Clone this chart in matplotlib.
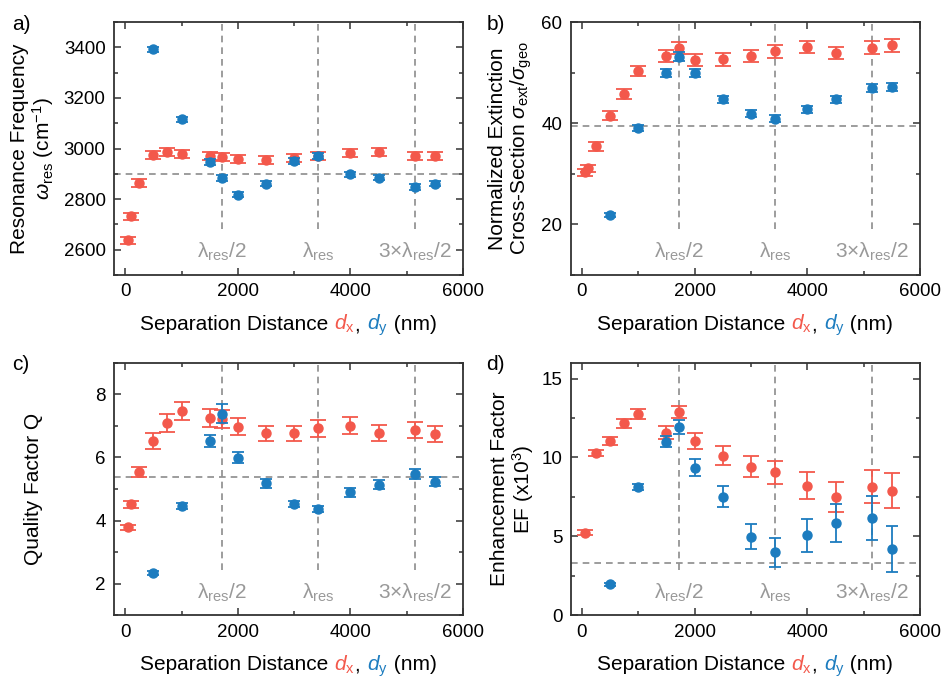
import matplotlib.pyplot as plt
import matplotlib.transforms as mtransforms
from matplotlib.ticker import MultipleLocator
from matplotlib.offsetbox import TextArea, HPacker, AnchoredOffsetbox

# separation distances (nm)
x_red = [50, 100, 250, 500, 750, 1000, 1500, 1715, 2000, 2500, 3000, 3430, 4000, 4500, 5145, 5500]
x_red_d = [50, 250, 500, 750, 1000, 1500, 1715, 2000, 2500, 3000, 3430, 4000, 4500, 5145, 5500]
x_blue = [500, 1000, 1500, 1715, 2000, 2500, 3000, 3430, 4000, 4500, 5145, 5500]

# a) resonance frequency
red_a = [2637, 2732, 2864, 2974, 2987, 2980, 2972, 2967, 2960, 2954, 2964, 2972, 2984, 2987, 2971, 2972]
red_a_err = [14, 14, 15, 16, 16, 16, 16, 16, 16, 16, 16, 16, 16, 16, 16, 16]
blue_a = [3392, 3115, 2945, 2885, 2818, 2861, 2952, 2970, 2898, 2885, 2848, 2860]
blue_a_err = [10, 10, 12, 12, 11, 10, 12, 12, 10, 10, 12, 10]

# b) normalized extinction cross-section
red_b = [30.3, 31.1, 35.4, 41.5, 45.8, 50.3, 53.3, 54.8, 52.5, 52.6, 53.3, 54.2, 55.1, 53.9, 54.9, 55.4]
red_b_err = [0.7, 0.7, 0.8, 0.9, 1.0, 1.0, 1.2, 1.2, 1.2, 1.2, 1.2, 1.3, 1.2, 1.2, 1.3, 1.3]
blue_b = [21.8, 39.0, 50.0, 53.1, 49.9, 44.7, 41.9, 40.9, 42.8, 44.7, 47.0, 47.2]
blue_b_err = [0.4, 0.6, 0.8, 0.9, 0.8, 0.7, 0.7, 0.7, 0.7, 0.7, 0.8, 0.8]

# c) quality factor
red_c = [3.79, 4.51, 5.54, 6.52, 7.09, 7.47, 7.24, 7.22, 6.97, 6.76, 6.76, 6.92, 7.01, 6.78, 6.86, 6.73]
red_c_err = [0.08, 0.12, 0.16, 0.24, 0.27, 0.3, 0.28, 0.28, 0.27, 0.25, 0.25, 0.26, 0.27, 0.25, 0.26, 0.25]
blue_c = [2.34, 4.47, 6.52, 7.39, 5.99, 5.18, 4.52, 4.37, 4.89, 5.13, 5.47, 5.23]
blue_c_err = [0.06, 0.1, 0.2, 0.3, 0.18, 0.14, 0.1, 0.1, 0.13, 0.14, 0.15, 0.14]

# d) enhancement factor (x10^3)
red_d = [5.23, 10.3, 11.03, 12.15, 12.74, 11.56, 12.87, 11.03, 10.1, 9.41, 9.05, 8.21, 7.47, 8.14, 7.89]
red_d_err = [0.15, 0.2, 0.25, 0.3, 0.3, 0.4, 0.4, 0.5, 0.6, 0.65, 0.75, 0.85, 0.95, 1.05, 1.1]
blue_d = [1.96, 8.14, 10.99, 11.94, 9.35, 7.51, 4.98, 3.99, 5.08, 5.82, 6.14, 4.18]
blue_d_err = [0.1, 0.2, 0.35, 0.45, 0.55, 0.65, 0.8, 0.9, 1.05, 1.2, 1.4, 1.45]

ref_levels = [2900, 39.4, 5.39, 3.29]
lam_pos = [1715, 3430, 5145]
lam_labels = ["λ$_{\\mathrm{res}}$/2", "λ$_{\\mathrm{res}}$", "3×λ$_{\\mathrm{res}}$/2"]

RED = '#f3584b'
BLUE = '#1c7cbf'
GRAY = '#8c8c8c'

plt.rcParams['font.family'] = ['Liberation Sans', 'DejaVu Sans']
plt.rcParams['mathtext.fontset'] = 'custom'
plt.rcParams['mathtext.rm'] = 'Liberation Sans'
plt.rcParams['mathtext.it'] = 'Liberation Sans:italic'
plt.rcParams['mathtext.bf'] = 'Liberation Sans:bold'
plt.rcParams['font.size'] = 14

dpi = 100
fig = plt.figure(dpi=dpi, figsize=(941 / dpi, 680 / dpi))

positions = [
    [0.1211, 0.5956, 0.3709, 0.372],
    [0.6065, 0.5956, 0.3712, 0.372],
    [0.1211, 0.0951, 0.3709, 0.3715],
    [0.6065, 0.0951, 0.3712, 0.3715],
]
ylims = [(2500, 3500), (10, 60), (1, 9), (0, 16)]
ymajor = [200, 20, 2, 5]
yminor = [100, 10, 1, 2.5]
ylabels = [
    "Resonance Frequency\n$\\omega_{\\mathrm{res}}$ (cm$^{-1}$)",
    "Normalized Extinction\nCross-Section $\\sigma_{\\mathrm{ext}}/\\sigma_{\\mathrm{geo}}$",
    "Quality Factor Q",
    "Enhancement Factor\nEF (x10$^3$)",
]
ylabel_x = [-0.232, -0.171, -0.23, -0.165]
panel = ['a)', 'b)', 'c)', 'd)']
panel_xy = [(0.013, 0.978), (0.517, 0.978), (0.013, 0.478), (0.517, 0.478)]

reds = [(x_red, red_a, red_a_err), (x_red, red_b, red_b_err),
        (x_red, red_c, red_c_err), (x_red_d, red_d, red_d_err)]
blues = [(x_blue, blue_a, blue_a_err), (x_blue, blue_b, blue_b_err),
         (x_blue, blue_c, blue_c_err), (x_blue, blue_d, blue_d_err)]


def color_xlabel(ax):
    parts = [("Separation Distance ", 'black'), ("$d_{\\mathrm{x}}$", RED),
             (", ", 'black'), ("$d_{\\mathrm{y}}$", BLUE), (" (nm)", 'black')]
    boxes = [TextArea(t, textprops=dict(color=c, fontsize=15)) for t, c in parts]
    pack = HPacker(children=boxes, align='baseline', pad=0, sep=0)
    box = AnchoredOffsetbox(loc='center', child=pack, pad=0, borderpad=0, frameon=False,
                            bbox_to_anchor=(0.5, -0.2), bbox_transform=ax.transAxes)
    ax.add_artist(box)


for i in range(4):
    ax = fig.add_axes(positions[i])
    ax.set_xlim(-200, 6000)
    ax.set_ylim(*ylims[i])

    ax.axhline(ref_levels[i], color=GRAY, ls=(0, (4, 3)), lw=1.2, zorder=1)
    trans = mtransforms.blended_transform_factory(ax.transData, ax.transAxes)
    for xp, lab in zip(lam_pos, lam_labels):
        ax.axvline(xp, ymin=0.18, ymax=1, color=GRAY, ls=(0, (4, 3)), lw=1.2, zorder=1)
        ax.text(xp, 0.09, lab, transform=trans, ha='center', va='center',
                color='#999999', fontsize=15)

    xs, ys, es = reds[i]
    ax.errorbar(xs, ys, yerr=es, fmt='o', color=RED, ms=6.5, capsize=6,
                elinewidth=1.3, capthick=1.3, zorder=3)
    xs, ys, es = blues[i]
    ax.errorbar(xs, ys, yerr=es, fmt='o', color=BLUE, ms=6.5, capsize=4,
                elinewidth=1.3, capthick=1.3, zorder=4)

    ax.xaxis.set_major_locator(MultipleLocator(2000))
    ax.xaxis.set_minor_locator(MultipleLocator(1000))
    ax.yaxis.set_major_locator(MultipleLocator(ymajor[i]))
    ax.yaxis.set_minor_locator(MultipleLocator(yminor[i]))
    ax.tick_params(which='both', direction='in', top=True, right=True,
                   color='#333333', width=1.1, labelsize=13.5)
    ax.tick_params(which='major', length=5, pad=6)
    ax.tick_params(which='minor', length=3)
    for sp in ax.spines.values():
        sp.set_linewidth(1.3)
        sp.set_color('#333333')

    ax.set_ylabel(ylabels[i], fontsize=15, va='center', linespacing=1.05)
    ax.yaxis.set_label_coords(ylabel_x[i], 0.5)
    color_xlabel(ax)

    fig.text(panel_xy[i][0], panel_xy[i][1], panel[i], fontsize=15, va='top', ha='left')

fig.savefig('out.png', dpi=dpi)
